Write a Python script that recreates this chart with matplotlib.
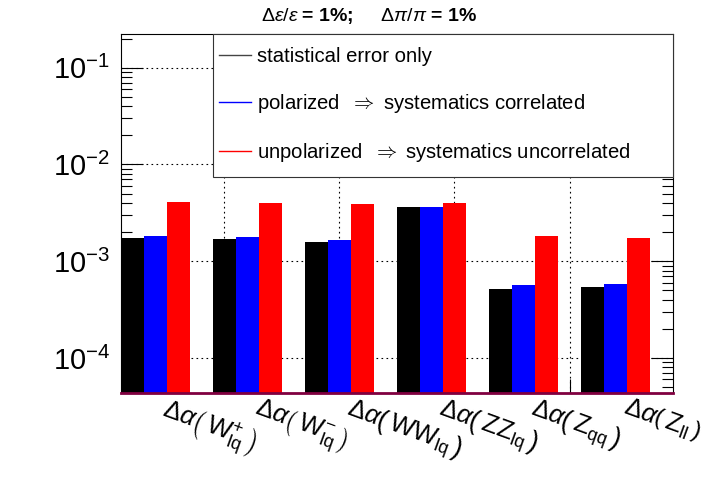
import matplotlib
matplotlib.use("Agg")
import matplotlib.pyplot as plt
from matplotlib.lines import Line2D
from matplotlib.patches import Rectangle
import numpy as np

plt.rcParams['font.family'] = ['Liberation Sans', 'DejaVu Sans']
plt.rcParams['mathtext.fontset'] = 'custom'
plt.rcParams['mathtext.rm'] = 'Liberation Sans'
plt.rcParams['mathtext.it'] = 'Liberation Sans:italic'
plt.rcParams['mathtext.bf'] = 'Liberation Sans:bold'
plt.rcParams['mathtext.sf'] = 'Liberation Sans'

categories = [r'$\Delta\alpha\left(\,\mathrm{W}_{\mathrm{lq}}^{+}\,\right)$',
              r'$\Delta\alpha\left(\,\mathrm{W}_{\mathrm{lq}}^{-}\,\right)$',
              r'$\Delta\alpha\left(\,\mathrm{WW}_{\mathrm{lq}}\,\right)$',
              r'$\Delta\alpha\left(\,\mathrm{ZZ}_{\mathrm{lq}}\,\right)$',
              r'$\Delta\alpha\left(\,\mathrm{Z}_{\mathrm{qq}}\,\right)$',
              r'$\Delta\alpha\left(\,\mathrm{Z}_{\mathrm{ll}}\,\right)$']
stat_only = [1.73e-3, 1.69e-3, 1.57e-3, 3.65e-3, 5.17e-4, 5.34e-4]
polarized = [1.81e-3, 1.79e-3, 1.66e-3, 3.65e-3, 5.65e-4, 5.82e-4]
unpolarized = [4.08e-3, 3.96e-3, 3.92e-3, 3.96e-3, 1.81e-3, 1.74e-3]
legend_labels = ['statistical error only',
                 r'polarized  $\Rightarrow$ systematics correlated',
                 r'unpolarized  $\Rightarrow$ systematics uncorrelated']
ytick_vals = [1e-4, 1e-3, 1e-2, 1e-1]
ytick_labels = [r'$10^{-4}$', r'$10^{-3}$', r'$10^{-2}$', r'$10^{-1}$']
xgrid_pos = [1.123, 2.373, 3.623, 4.873]

fig = plt.figure(figsize=(7.09, 4.80), dpi=100)
ax = fig.add_axes([121/709, 1-393/480, (673.3-121)/709, (393-34)/480])

n = len(categories)
x = np.arange(n)
w = 0.25
ax.bar(x, stat_only, width=w, align='edge', color='black', bottom=1e-6, zorder=2)
ax.bar(x + w, polarized, width=w, align='edge', color='#0000ff', bottom=1e-6, zorder=2)
ax.bar(x + 2*w, unpolarized, width=w, align='edge', color='#ff0000', bottom=1e-6, zorder=2)

ax.set_yscale('log')
ax.set_ylim(4.34e-5, 0.2234)
ax.set_xlim(0, n)

ax.set_yticks(ytick_vals)
ax.set_yticklabels(ytick_labels, fontsize=21)
ax.yaxis.set_minor_locator(matplotlib.ticker.LogLocator(base=10, subs=np.arange(2, 10)))
ax.yaxis.set_minor_formatter(matplotlib.ticker.NullFormatter())
ax.tick_params(axis='y', which='major', direction='in', length=16, width=0.8,
               right=True, left=True, pad=8)
ax.tick_params(axis='y', which='minor', direction='in', length=8, width=0.8,
               right=True, left=True)

ax.set_xticks(xgrid_pos)
ax.set_xticklabels([])
ax.tick_params(axis='x', which='major', direction='in', length=10, width=0.8, top=False)

for xv in xgrid_pos:
    ax.axvline(xv, color='black', linestyle=(0, (1.5, 3)), linewidth=0.8, zorder=1)
for yv in ytick_vals:
    ax.axhline(yv, color='black', linestyle=(0, (1.5, 3)), linewidth=0.8, zorder=1)

for i, lab in enumerate(categories):
    ax.text(i + 0.515, -0.004, lab, transform=ax.get_xaxis_transform(),
            rotation=-20, rotation_mode='anchor', ha='left', va='top', fontsize=18.5)

for s in ax.spines.values():
    s.set_linewidth(0.8)
ax.spines['bottom'].set_color('#800040')
ax.spines['bottom'].set_linewidth(2)
ax.spines['bottom'].set_zorder(5)

# legend box
x0 = (212.7-121)/(673.3-121)
y0 = (393-177)/(393-34)
box = Rectangle((x0, y0), 1-x0, 1-y0, transform=ax.transAxes, facecolor='white',
                edgecolor='#333333', linewidth=0.8, zorder=9, clip_on=False)
ax.add_patch(box)

handles = [Line2D([], [], color='#444444', lw=1),
           Line2D([], [], color='#0000ff', lw=1),
           Line2D([], [], color='#ff0000', lw=1)]
leg = ax.legend(handles, legend_labels, loc='center left',
                bbox_to_anchor=(x0, y0, 1-x0, 1-y0), borderaxespad=0,
                fontsize=14.6, frameon=False, labelspacing=1.3, borderpad=0.3,
                handlelength=1.6, handletextpad=0.3)
leg.set_zorder(10)

fig.text(369/709, 1-16/480, r'$\Delta\varepsilon/\varepsilon$ = 1%;     $\Delta\pi/\pi$ = 1%',
         ha='center', va='center', fontsize=14, fontweight='bold')

fig.savefig('out.png', dpi=100)
